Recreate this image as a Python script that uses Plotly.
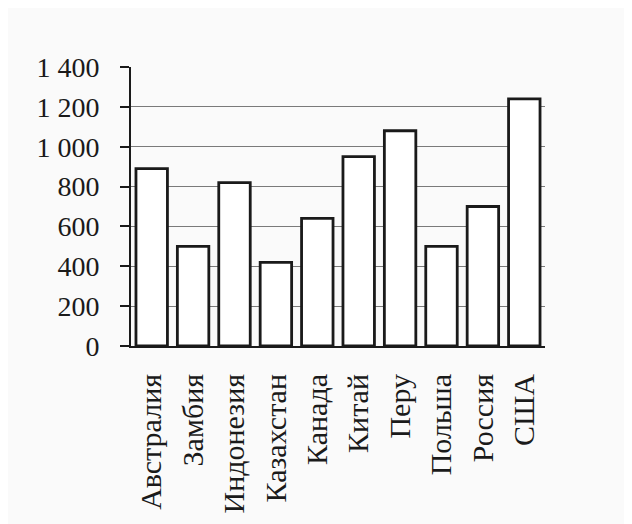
import plotly.graph_objects as go

countries = ["Австралия", "Замбия", "Индонезия", "Казахстан", "Канада",
             "Китай", "Перу", "Польша", "Россия", "США"]
values = [890, 500, 820, 420, 640, 950, 1080, 500, 700, 1240]
y_tick_vals = [0, 200, 400, 600, 800, 1000, 1200, 1400]
y_tick_text = ["0", "200", "400", "600", "800", "1 000", "1 200", "1 400"]

FONT = "Liberation Serif, Times New Roman, serif"

fig = go.Figure(go.Bar(
    x=countries, y=values,
    marker=dict(color="white", line=dict(color="#1a1a1a", width=2.8)),
    width=0.76,
))

fig.update_layout(
    width=632, height=524,
    margin=dict(l=123, r=95, t=59, b=186),
    paper_bgcolor="#fafafa", plot_bgcolor="#fafafa",
    font=dict(family=FONT, size=28, color="#1a1a1a"),
    showlegend=False,
)
fig.update_yaxes(
    range=[0, 1400], tickvals=y_tick_vals, ticktext=y_tick_text,
    showgrid=True, gridcolor="#7a7a7a", gridwidth=1,
    showline=True, linecolor="#1a1a1a", linewidth=2,
    ticks="outside", ticklen=9, tickcolor="#1a1a1a", tickwidth=2,
    ticklabelstandoff=15, zeroline=False,
)
fig.update_xaxes(
    tickangle=-90, showline=True, linecolor="#1a1a1a", linewidth=2,
    ticks="", showgrid=False, ticklabelstandoff=14,
    tickfont=dict(size=30),
)

fig.write_html("out.html")
